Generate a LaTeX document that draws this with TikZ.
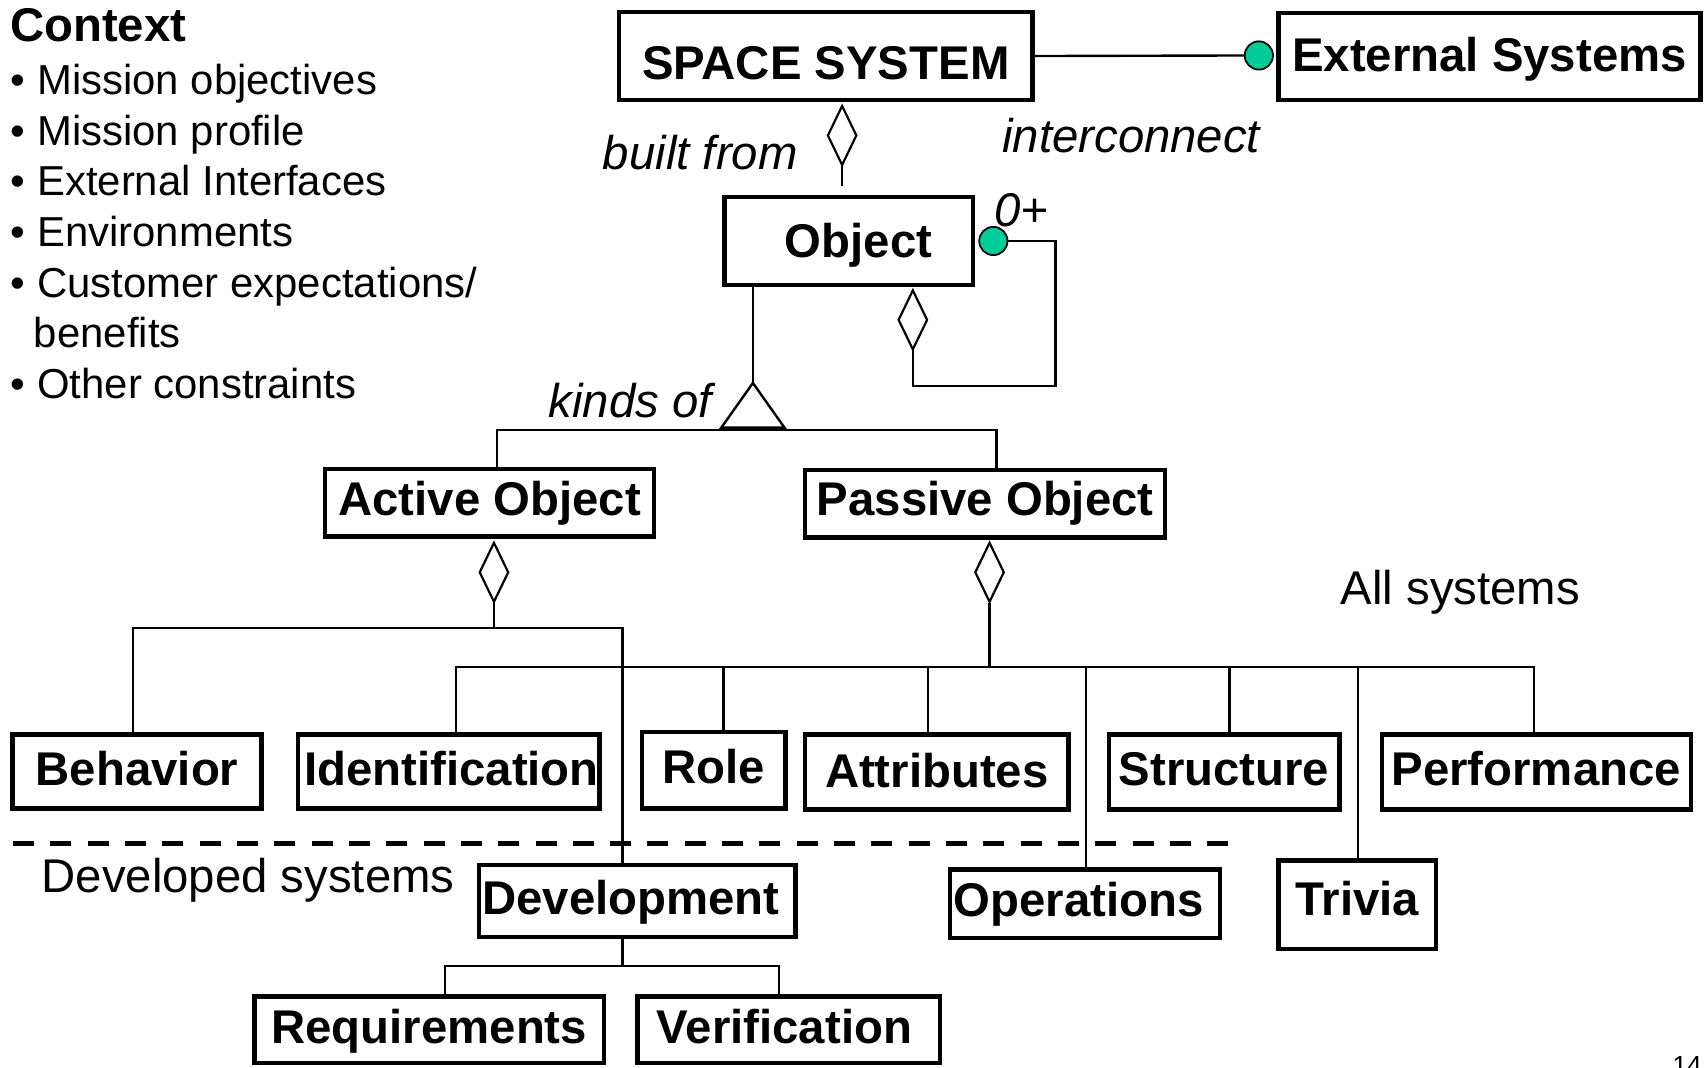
\documentclass[tikz,border=0pt]{standalone}
\usepackage{fontspec}
\setmainfont{Liberation Sans}
\usetikzlibrary{shapes.geometric,calc}
\definecolor{portgreen}{RGB}{0,204,153}

\tikzset{
  box/.style={draw, line width=4pt, inner sep=0pt,
    font=\fontsize{43.5}{52}\selectfont\bfseries,
    text height=31.1pt, text depth=0pt},
  sz/.style 2 args={minimum width=#1pt, minimum height=#2pt},
  link/.style={line width=2.2pt},
  agg/.style={diamond, draw, line width=2pt, fill=white, inner sep=0pt,
    minimum width=27pt, minimum height=55pt},
  port/.style={circle, draw, line width=1.6pt, fill=portgreen,
    inner sep=0pt, minimum size=26pt},
  tag/.style={font=\fontsize{43.5}{52}\selectfont\itshape, inner sep=0pt, anchor=base west},
  plain/.style={font=\fontsize{43.5}{52}\selectfont, inner sep=0pt, anchor=base west},
  ctxitem/.style={font=\fontsize{38.5}{46}\selectfont, inner sep=0pt, anchor=base west},
}

\begin{document}
\begin{tikzpicture}[x=1pt, y=-1pt]
\useasboundingbox (0,0) rectangle (1568,981);
\clip (0,0) rectangle (1568,981);
\fill[white] (0,0) rectangle (1568,981);

% context list
\node[plain, font=\fontsize{43.5}{52}\selectfont\bfseries] (ctx) at (9,38) {Context};
\node[ctxitem] (c1) at (9,87)    {\makebox[25pt][l]{\textbullet}Mission objectives};
\node[ctxitem] (c2) at (9,133.5) {\makebox[25pt][l]{\textbullet}Mission profile};
\node[ctxitem] (c3) at (9,180)   {\makebox[25pt][l]{\textbullet}External Interfaces};
\node[ctxitem] (c4) at (9,226.5) {\makebox[25pt][l]{\textbullet}Environments};
\node[ctxitem] (c5) at (9,273)   {\makebox[25pt][l]{\textbullet}Customer expectations/};
\node[ctxitem] (c6) at (31,319.5) {benefits};
\node[ctxitem] (c7) at (9,366)   {\makebox[25pt][l]{\textbullet}Other constraints};

% classes
\node[box, sz={380}{81}] (ss)   at (759,51.5)   {\raisebox{-6.4pt}{SPACE SYSTEM}};
\node[box, sz={388}{80}] (ext)  at (1369,52)    {\raisebox{1.6pt}{External Systems}};
\node[box, sz={228}{81}] (obj)  at (780,221.5)  {\hspace*{18pt}Object};
\node[box, sz={302}{62}] (act)  at (450,462)    {\raisebox{4pt}{Active Object}};
\node[box, sz={331}{62}] (pas)  at (905.5,463)  {\raisebox{5pt}{Passive Object}};
\node[box, sz={229}{68}] (beh)  at (126,709)    {\raisebox{3pt}{Behavior}};
\node[box, sz={277}{68}] (idf)  at (412.5,709)  {\raisebox{3pt}{\hspace*{5pt}Identification}};
\node[box, sz={132}{70}] (rol)  at (656,708)    {\raisebox{3.5pt}{Role}};
\node[box, sz={242}{69}] (attr) at (861,709.5)  {\raisebox{1pt}{Attributes}};
\node[box, sz={212}{69}] (str)  at (1125,709.5) {\raisebox{3.5pt}{Structure}};
\node[box, sz={284}{69}] (perf) at (1412,709.5) {\raisebox{3.5pt}{Performance}};
\node[box, sz={291}{66}] (dev)  at (585.5,828)  {\raisebox{2.6pt}{Development\hspace*{11pt}}};
\node[box, sz={248}{63}] (ops)  at (997,830.5)  {\raisebox{4pt}{Operations\hspace*{11pt}}};
\node[box, sz={145}{81}] (triv) at (1247.5,831.5) {\raisebox{6pt}{Trivia}};
\node[box, sz={321}{61}] (req)  at (394.5,946.5) {\raisebox{3pt}{Requirements}};
\node[box, sz={278}{61}] (ver)  at (725,946.5)  {\raisebox{3pt}{Verification\hspace*{8pt}}};

% interconnect to external systems
\node[port] (p1) at (1157,51) {};
\draw[link] (ss.east) -- (p1.west);

% built from
\node[agg] (d1) at (774,124.5) {};
\draw[link, shorten >=8pt] (d1.south) -- (d1.south |- obj.north);

% self association of Object
\node[port] (p2) at (913,221.5) {};
\draw[link] (p2.east) -| (970,355) -| (839,322);
\node[agg] (d2) at (839,294) {};

% kinds of
\coordinate (tri) at (692,352);
\coordinate (gl) at (457,395);
\coordinate (gr) at (916,395);
\draw[link] (obj.south -| tri) -- (tri);
\draw[link] (act.north -| gl) -- (gl) -- (gr) -- (pas.north -| gr);
\draw[link, fill=white] (tri) -- ++(29,41) -- ++(-58,0) -- cycle;

% parts of active object
\coordinate (al) at (122,577);
\coordinate (ar) at (572,577);
\draw[link] (454,554) -- (454,577);
\draw[link] (beh.north -| al) -- (al) -- (ar) -- (dev.north -| ar);
\node[agg] (d3) at (454,526) {};

% parts of passive object
\coordinate (pl) at (419,613);
\coordinate (pr) at (1410,613);
\draw[link] (909.5,554) -- (909.5,613);
\draw[link] (idf.north -| pl) -- (pl) -- (pr) -- (perf.north -| pr);
\foreach \xx/\nn in {665/rol, 853/attr, 998/ops, 1130/str, 1248/triv}
  \draw[link] (\xx,613) -- (\nn.north -| \xx,613);
\node[agg] (d4) at (909.5,526) {};

% development breakdown
\coordinate (vm) at (572,888);
\coordinate (vl) at (409,888);
\coordinate (vr) at (716,888);
\draw[link] (dev.south -| vm) -- (vm);
\draw[link] (req.north -| vl) -- (vl) -- (vr) -- (ver.north -| vr);

% separator between all systems and developed systems
\draw[line width=4.9pt, dash pattern=on 19.3pt off 15pt] (12,775) -- (1129,775);

% labels
\node[tag] (lbuilt) at (554,156) {built from};
\node[tag] (linter) at (921,140) {interconnect};
\node[tag] (lmult)  at (914,208) {0+};
\node[tag] (lkinds) at (504,384) {kinds of};
\node[plain] (lall) at (1232,556) {All systems};
\node[plain] (ldev) at (38,820) {Developed systems};
\node[font=\fontsize{24}{28}\selectfont, inner sep=0pt, anchor=base west] (pg) at (1537,988) {14};
\end{tikzpicture}
\end{document}
